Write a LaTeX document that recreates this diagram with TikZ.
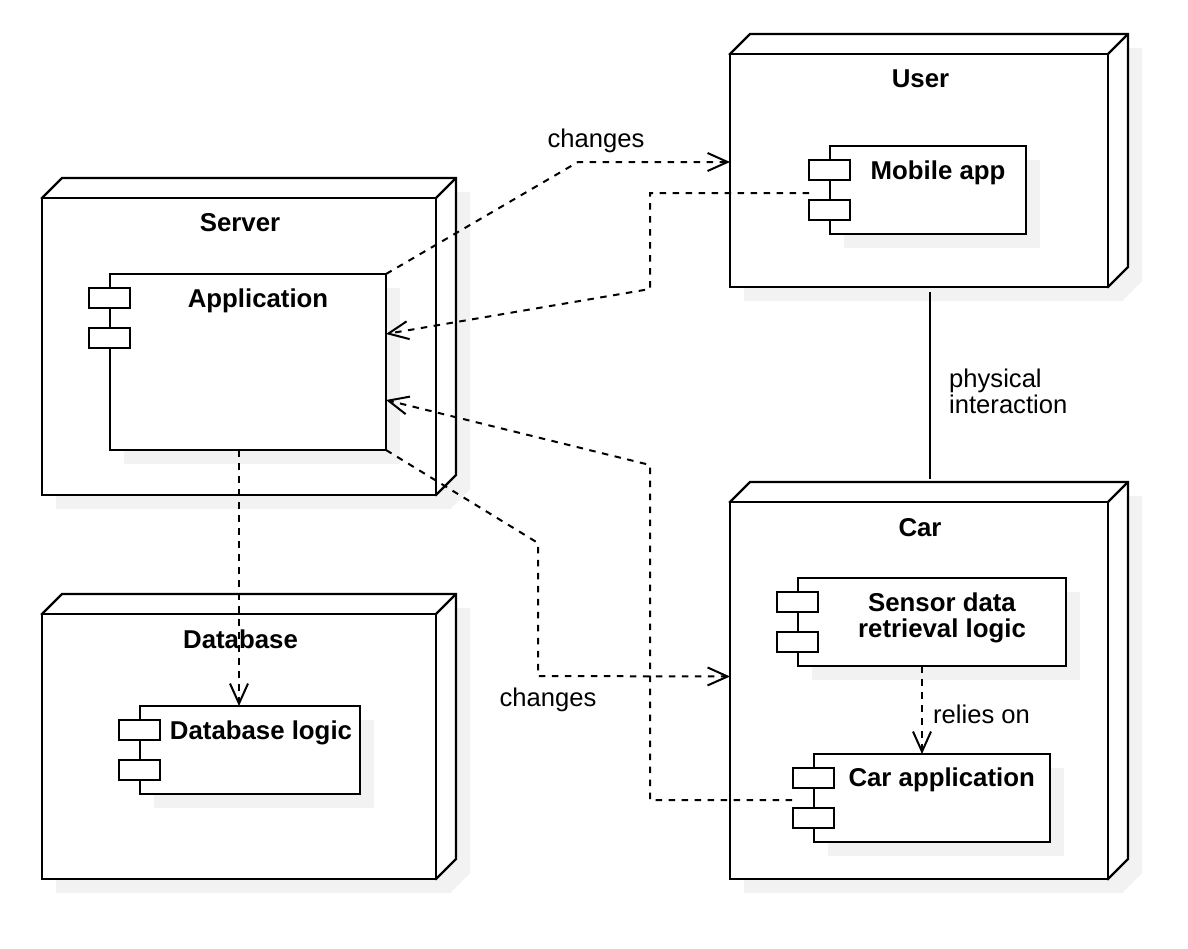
\documentclass[tikz,border=0pt]{standalone}
\usepackage{fontspec}
\setmainfont{Liberation Sans}
\usetikzlibrary{calc,arrows.meta}
\definecolor{shc}{HTML}{F2F2F2}
\tikzset{
  boxline/.style={line width=2.2pt, line join=miter},
  shadowfill/.style={fill=shc, draw=none},
  dep/.style={line width=2pt, dash pattern=on 6.5pt off 6.5pt, -{Straight Barb[length=20pt,width=18pt]}},
  solidcon/.style={line width=2pt},
  title/.style={font=\bfseries\fontsize{25.8pt}{25.6pt}\selectfont, inner sep=0pt, anchor=base},
  lbl/.style={font=\fontsize{25.6pt}{26pt}\selectfont, inner sep=0pt, anchor=base},
}
\newcommand{\dnode}[5]{%
  \fill[shadowfill] ({#2+14},{#3+14}) -- ({#2+34},{#3-6}) -- ({#4+34},{#3-6}) -- ({#4+34},{#5-6}) -- ({#4+14},{#5+14}) -- ({#2+14},{#5+14}) -- cycle;
  \draw[boxline, fill=white] (#2,#3) -- ({#2+20},{#3-20}) -- ({#4+20},{#3-20}) -- ({#4+20},{#5-20}) -- (#4,#5) -- cycle;
  \draw[boxline] (#4,#3) -- ({#4+20},{#3-20});
  \node[boxline, draw, fill=white, inner sep=0pt, outer sep=0pt, anchor=north west,
        minimum width={(#4-#2)*1pt}, minimum height={(#5-#3)*1pt}] (#1) at (#2,#3) {};
}
\newcommand{\cnode}[5]{%
  \fill[shadowfill] ({#2+14},{#3+14}) rectangle ({#4+14},{#5+14});
  \node[boxline, draw, fill=white, inner sep=0pt, outer sep=0pt, anchor=north west,
        minimum width={(#4-#2)*1pt}, minimum height={(#5-#3)*1pt}] (#1) at (#2,#3) {};
  \draw[boxline, fill=white] ({#2-21},{#3+14}) rectangle ({#2+20},{#3+34});
  \draw[boxline, fill=white] ({#2-21},{#3+54}) rectangle ({#2+20},{#3+74});
}
\begin{document}
\begin{tikzpicture}[x=1pt,y=-1pt]
\useasboundingbox[fill=white] (0,0) rectangle (1188,948);

% deployment nodes
\dnode{server}{42}{198}{436}{495}
\dnode{user}{730}{54}{1108}{287}
\dnode{car}{730}{502}{1108}{879}
\dnode{db}{42}{614}{436}{879}

% components
\cnode{app}{110}{274}{386}{450}
\cnode{mobile}{830}{146}{1026}{234}
\cnode{sensor}{798}{578}{1066}{666}
\cnode{carapp}{814}{754}{1050}{842}
\cnode{dblogic}{140}{706}{360}{794}

% titles
\node[title] (tserver) at (240,231.7) {Server};
\node[title] (tapp) at (258,307.3) {Application};
\node[title] (tuser) at (920.5,87.3) {User};
\node[title] (tmobile) at (938,179.3) {Mobile app};
\node[title] (tcar) at (920,536) {Car};
\node[title, align=center] (tsensor) at (942,637.3) {Sensor data\\retrieval logic};
\node[title] (tcarapp) at (941.7,786.7) {Car application};
\node[title] (tdb) at (240.5,648.3) {Database};
\node[title] (tdblogic) at (261,739.3) {Database logic};

% connectors
\draw[dep] (app.north east) -- (578,162) -- ($(user.west)+(0,-8.5)$);
\draw[dep] ($(mobile.west)+(-21,3)$) -- (650,193) -- (650,289) -- ($(app.east)+(0,-28)$);
\draw[dep] ($(carapp.west)+(-22,2)$) -- (650,800) -- (650,465) -- ($(app.east)+(0,38)$);
\draw[dep] (app.south east) -- (538,543) -- (538,676) -- ($(car.west)+(0,-14)$);
\draw[dep] ($(app.south)+(-9,0)$) -- ($(dblogic.north)+(-11,0)$);
\draw[dep] ($(sensor.south)+(-10,0)$) -- ($(carapp.north)+(-10,0)$);
\draw[solidcon] ($(user.south)+(11,5)$) -- ($(car.north)+(11,-23)$);

% connector labels
\node[lbl] (lch1) at (596,147.3) {changes};
\node[lbl] (lch2) at (548,706.7) {changes};
\node[lbl, anchor=base west] (lrel) at (933,723) {relies on};
\node[lbl, anchor=base west, align=left] (lphys) at (949,413) {physical\\interaction};
\end{tikzpicture}
\end{document}
